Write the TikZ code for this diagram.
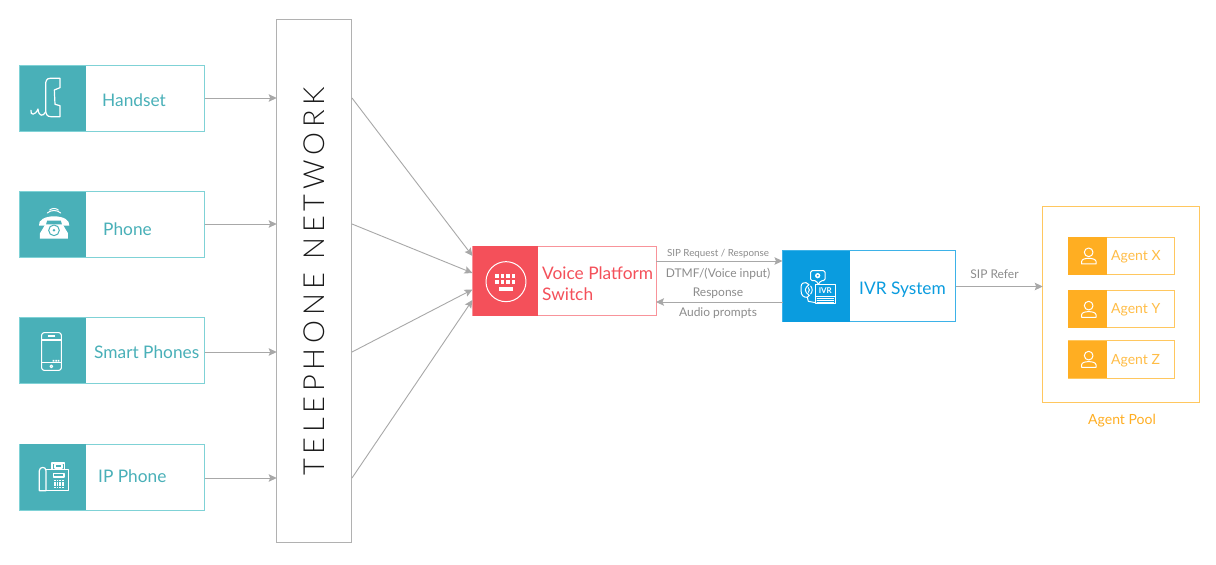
\documentclass[tikz,border=0pt]{standalone}
\usepackage{fontspec}
\setmainfont{Lato}
\newfontfamily\netfont[LetterSpace=16.5]{Lato Light}
\usetikzlibrary{arrows.meta}
\definecolor{teal1}{HTML}{49B0B8}
\definecolor{teal2}{HTML}{7FD2D6}
\definecolor{red1}{HTML}{F4505A}
\definecolor{red2}{HTML}{F8939A}
\definecolor{blue1}{HTML}{0A9CDF}
\definecolor{blue2}{HTML}{3DB2E8}
\definecolor{orange1}{HTML}{FFAE22}
\definecolor{orange2}{HTML}{FFC75F}
\definecolor{linegray}{HTML}{A8A8A8}
\definecolor{labgray}{HTML}{8C8C8C}
\newcommand{\card}[8]{% name, x1,y1,split,x2,y2,fill,border
  \pgfmathsetmacro{\cw}{#5-#2}\pgfmathsetmacro{\ch}{#6-#3}
  \pgfmathsetmacro{\cx}{(#5+#2)/2}\pgfmathsetmacro{\cy}{(#6+#3)/2}
  \pgfmathsetmacro{\sw}{#4-#2}\pgfmathsetmacro{\sx}{(#4+#2)/2}
  \node[cardbox,draw=#8,minimum width=\cw pt,minimum height=\ch pt] (#1) at (\cx,\cy) {};
  \node[cardbox,fill=#7,minimum width=\sw pt,minimum height=\ch pt] (#1-icon) at (\sx,\cy) {};
}
\newcommand{\agentglyph}[1]{%
  \begin{scope}[zoomed={1030}{#1},icon]
    \draw (176,157) circle (13);
    \draw (155,192) -- (155,184) .. controls (155,172) and (197,172) .. (198,184) -- (198,192) -- cycle;
  \end{scope}}
\tikzset{
  x=1pt,y=-1pt,
  cardbox/.style={rectangle,inner sep=0pt,outer sep=0pt,line width=1pt},
  zoomed/.style 2 args={shift={(#1,#2)},x=0.3333pt,y=-0.3333pt},
  icon/.style={draw=white,line width=1pt,line join=round,line cap=round},
  conn/.style={draw=linegray,line width=0.9pt,-{Stealth[length=8pt,width=7.5pt,inset=1.5pt]}},
  lab/.style={anchor=west,inner sep=0pt,font=\fontsize{17.3}{20}\selectfont},
  agentlab/.style={lab,text=orange2!60!orange1,font=\fontsize{14}{16}\selectfont},
  small/.style={inner sep=0pt,text=labgray,font=\fontsize{12}{14}\selectfont},
}
\begin{document}
\begin{tikzpicture}
\path[use as bounding box,fill=white] (0,0) rectangle (1216,565);
% network
\node[cardbox,draw=linegray!90,minimum width=75pt,minimum height=523.5pt] (net) at (314.2,281.2) {};
\node[rotate=90,inner sep=0pt,text=black!90,font=\netfont\fontsize{29}{32}\selectfont] (nettext) at (314,281.5) {TELEPHONE NETWORK};
% cards
\card{handset}{19.5}{65.5}{85.5}{204.5}{131}{teal1}{teal2}
\card{phone}{19.5}{191.7}{85.5}{204.5}{257}{teal1}{teal2}
\card{smart}{19.5}{317.5}{85.5}{204.5}{383}{teal1}{teal2}
\card{ip}{19.5}{444}{85.5}{204.5}{510}{teal1}{teal2}
\card{voice}{472.5}{246}{538}{656}{315.5}{red1}{red2}
\card{ivr}{782.5}{250.5}{850}{955.5}{321.5}{blue1}{blue2}
\node[cardbox,draw=orange2,line width=1.2pt,minimum width=156.5pt,minimum height=196.5pt] (pool) at (1121,304.5) {};
\card{agx}{1068}{237}{1107}{1174}{274.5}{orange1}{orange2}
\card{agy}{1068}{290}{1107}{1174}{327.5}{orange1}{orange2}
\card{agz}{1068}{340.5}{1107}{1174}{378}{orange1}{orange2}
% labels
\node[lab,text=teal1] (t1) at (102,100) {Handset};
\node[lab,text=teal1] (t2) at (103,229.4) {Phone};
\node[lab,text=teal1] (t3) at (94,352.4) {Smart Phones};
\node[lab,text=teal1] (t4) at (98,476.4) {IP Phone};
\node[lab,text=red1] (t5) at (542,273.6) {Voice Platform};
\node[lab,text=red1] (t6) at (542,294) {Switch};
\node[lab,text=blue1] (t7) at (859,289.5) {IVR System};
\node[agentlab] (t8) at (1111,257) {Agent X};
\node[agentlab] (t9) at (1111,310) {Agent Y};
\node[agentlab] (t10) at (1111,360.5) {Agent Z};
\node[inner sep=0pt,text=orange1,font=\fontsize{14}{16}\selectfont] (t11) at (1122,421) {Agent Pool};
\node[small,font=\fontsize{9.8}{12}\selectfont] (s1) at (718,254) {SIP Request / Response};
\node[small] (s2) at (718,274) {DTMF/(Voice input)};
\node[small] (s3) at (718,293.5) {Response};
\node[small] (s4) at (718,313) {Audio prompts};
\node[small] (s5) at (994.5,274.5) {SIP Refer};
% connector end points
\coordinate (n1) at (352,98);\coordinate (n2) at (352,224);\coordinate (n3) at (352,352);\coordinate (n4) at (352,478);
\coordinate (v1) at (472.5,256);\coordinate (v2) at (472.5,273);\coordinate (v3) at (472.5,289.5);\coordinate (v4) at (472.5,300);
\coordinate (h1) at (204.5,98);\coordinate (h2) at (204.5,224);\coordinate (h3) at (204.5,352);\coordinate (h4) at (204.5,478);
\coordinate (va) at (656,261);\coordinate (vb) at (656,302);
\coordinate (ia) at (782.5,261);\coordinate (ib) at (782.5,302);
\draw[conn] (h1) -- (h1 -| net.west);
\draw[conn] (h2) -- (h2 -| net.west);
\draw[conn] (h3) -- (h3 -| net.west);
\draw[conn] (h4) -- (h4 -| net.west);
\draw[conn] (n1) -- (v1);
\draw[conn] (n2) -- (v2);
\draw[conn] (n3) -- (v3);
\draw[conn] (n4) -- (v4);
\draw[conn] (va) -- (ia);
\draw[conn] (ib) -- (vb);
\coordinate (ie) at (955.5,286.5);
\draw[conn] (ie) -- (ie -| pool.west);
% handset icon
\begin{scope}[zoomed={10}{55},icon,line width=1.2pt]
  \draw (150,70) -- (120,70) .. controls (110,70) and (107,78) .. (107,88) -- (107,165) .. controls (107,178) and (112,185) .. (122,185) -- (150,185) -- (150,152) -- (135,148) -- (133,105) -- (150,98) -- cycle;
  \draw (63,166) .. controls (60,182) and (76,182) .. (84,162) .. controls (86,185) and (100,186) .. (107,170);
\end{scope}
% phone icon
\begin{scope}[zoomed={10}{55},icon]
  \fill[white] (90,551) -- (174,551) -- (174,535) -- (158,508) -- (106,508) -- (90,535) -- cycle;
  \fill[white] (87,512) .. controls (84,495) and (105,484) .. (132,484) .. controls (160,484) and (180,495) .. (178,512) -- (157,512) -- (153,497) -- (111,497) -- (107,512) -- cycle;
  \draw[teal1] (132,526) circle (16);
  \fill[teal1] (132,526) circle (4);
  \draw (112,474) .. controls (122,464) and (142,464) .. (152,474);
  \draw (119,465) .. controls (126,459) and (138,459) .. (145,465);
\end{scope}
% smart phone icon
\begin{scope}[zoomed={10}{310},icon,line width=1.1pt]
  \draw[rounded corners=2.5pt] (95,68) rectangle (154,181);
  \draw (96,90) -- (153,90);
  \draw (96,158) -- (153,158);
  \draw (115,78) -- (134,78);
  \draw (124,169) circle (4);
  \fill[white] (128,150) rectangle (133,155) (136,150) rectangle (141,155) (143,150) rectangle (148,155);
\end{scope}
% IP phone icon
\begin{scope}[zoomed={10}{310},icon,line width=1.2pt]
  \draw (88,482) .. controls (88,470) and (108,468) .. (108,482) -- (108,542) -- (88,542) -- cycle;
  \draw (108,478) -- (175,478) -- (175,542) -- (108,542);
  \draw (126,478) -- (126,459) -- (164,459) -- (164,478);
  \draw (135,464) -- (156,464) -- (156,474) -- (135,474) -- cycle;
  \draw (130,490) rectangle (162,501);
  \foreach \i in {0,1,2,3} \foreach \j in {0,1,2,3}
    \fill[white] ({134+\i*8-1.8},{511+\j*7-1.8}) rectangle ++(4.5,4.5);
\end{scope}
% keyboard icon
\begin{scope}[zoomed={465}{235},icon]
  \draw (123,140) circle (60);
  \foreach \i in {0,1,2,3} \foreach \j in {0,1}
    \fill[white] ({90+\i*16.5},{117+\j*17}) rectangle ++(11.5,12);
  \fill[white] (103,156) rectangle (144,167);
\end{scope}
% IVR icon
\begin{scope}[zoomed={775}{240},icon,line width=1pt]
  \draw[rounded corners=1.5pt] (107,92) -- (150,92) -- (150,122) -- (137,122) -- (130,134) -- (124,122) -- (107,122) -- cycle;
  \fill[white] (128,107) circle (8);
  \fill[blue1] (128,107) circle (3);
  \draw (122,134) -- (180,134) -- (180,192) -- (122,192) -- cycle;
  \draw (122,170) -- (180,170);
  \foreach \j in {175,181,187} \draw[line width=0.6pt] (126,\j) -- (176,\j);
  \node[inner sep=0pt,text=white,font=\bfseries\fontsize{8}{9}\selectfont] (ivrmark) at (151,152) {IVR};
  \draw (93,128) .. controls (78,128) and (78,134) .. (78,150) .. controls (78,168) and (86,172) .. (97,172) -- (103,166) -- (94,158) .. controls (90,152) and (90,146) .. (94,142) -- (102,134) -- cycle;
  \draw (97,172) -- (100,184) -- (122,188);
  \draw (100,143) .. controls (104,147) and (104,153) .. (100,157);
  \draw (107,138) .. controls (113,146) and (113,154) .. (107,162);
\end{scope}
% agent icons
\agentglyph{200}
\agentglyph{253.3}
\agentglyph{303.3}
\end{tikzpicture}
\end{document}
